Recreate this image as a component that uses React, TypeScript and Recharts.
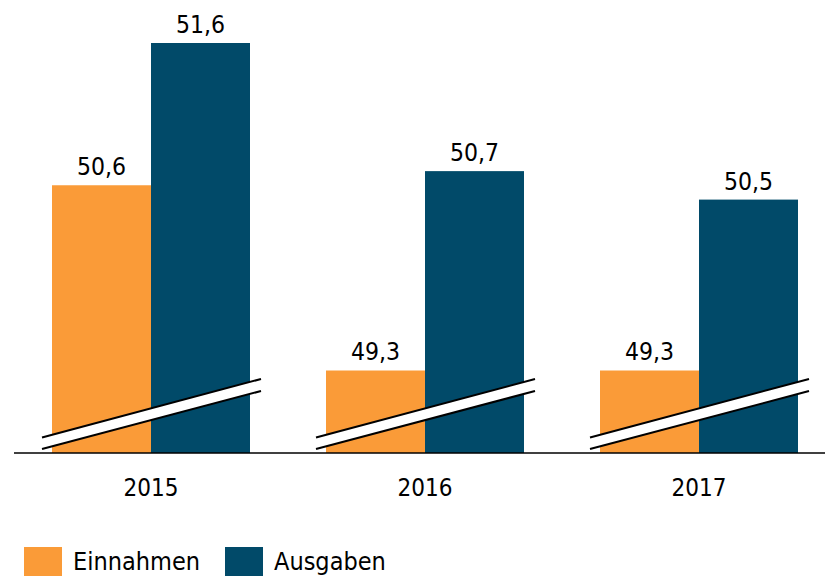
import { Bar, BarChart, LabelList, XAxis, YAxis } from "recharts";

const years = ["2015", "2016", "2017"];
const einnahmen = [50.6, 49.3, 49.3];
const ausgaben = [51.6, 50.7, 50.5];

const ORANGE = "#FA9B38";
const BLUE = "#014A69";
const FONT = "'DejaVu Sans Condensed', 'DejaVu Sans', sans-serif";

const data = years.map((year, i) => ({
  year,
  einnahmen: einnahmen[i],
  ausgaben: ausgaben[i],
}));

const fmt = (v: number) => v.toFixed(1).replace(".", ",");

// blue bar plus the axis-break band drawn across the whole year group
function BreakBar(props: any) {
  const { x, y, width, height, fill } = props;
  const base = y + height;
  const x1 = x - width - 10;
  const x2 = x + width + 11;
  const band = `${x1},${base - 15.5} ${x2},${base - 74} ${x2},${base - 62} ${x1},${base - 4}`;
  return (
    <g>
      <rect x={x} y={y} width={width} height={height} fill={fill} />
      <polygon points={band} fill="#fff" stroke="none" />
      <line x1={x1} y1={base - 15.5} x2={x2} y2={base - 74} stroke="#000" strokeWidth={2} />
      <line x1={x1} y1={base - 4} x2={x2} y2={base - 62} stroke="#000" strokeWidth={2} />
    </g>
  );
}

function YearTick(props: any) {
  const { x, y, payload } = props;
  return (
    <text x={x} y={y} dy={41} textAnchor="middle" fontSize={24} fontFamily={FONT} fill="#000">
      {payload.value}
    </text>
  );
}

const legendItems = [
  { name: "Einnahmen", color: ORANGE, left: 24 },
  { name: "Ausgaben", color: BLUE, left: 225 },
];

export default function App() {
  return (
    <div
      style={{
        position: "absolute",
        left: 0,
        top: 0,
        width: 825,
        height: 579,
        overflow: "hidden",
        background: "#fff",
      }}
    >
      <BarChart
        width={840}
        height={579}
        data={data}
        margin={{ top: 43, right: 4, left: 14, bottom: 86 }}
        barGap={0}
        barSize={99}
      >
        <XAxis
          dataKey="year"
          height={40}
          tickLine={false}
          tickSize={0}
          tick={<YearTick />}
          axisLine={{ stroke: "#000", strokeWidth: 1.5 }}
        />
        <YAxis hide domain={[48.72, 51.6]} allowDataOverflow />
        <Bar dataKey="einnahmen" fill={ORANGE} isAnimationActive={false}>
          <LabelList
            dataKey="einnahmen"
            position="top"
            offset={10}
            formatter={fmt}
            fontSize={24.5}
            fontFamily={FONT}
            fill="#000"
          />
        </Bar>
        <Bar dataKey="ausgaben" fill={BLUE} shape={<BreakBar />} isAnimationActive={false}>
          <LabelList
            dataKey="ausgaben"
            position="top"
            offset={10}
            formatter={fmt}
            fontSize={24.5}
            fontFamily={FONT}
            fill="#000"
          />
        </Bar>
      </BarChart>
      {legendItems.map((item) => (
        <div
          key={item.name}
          style={{
            position: "absolute",
            left: item.left,
            top: 547,
            display: "flex",
            alignItems: "center",
            fontFamily: FONT,
            fontSize: 25,
            color: "#000",
          }}
        >
          <span style={{ width: 38, height: 29, background: item.color, marginRight: 11 }} />
          <span style={{ lineHeight: "29px" }}>{item.name}</span>
        </div>
      ))}
    </div>
  );
}
